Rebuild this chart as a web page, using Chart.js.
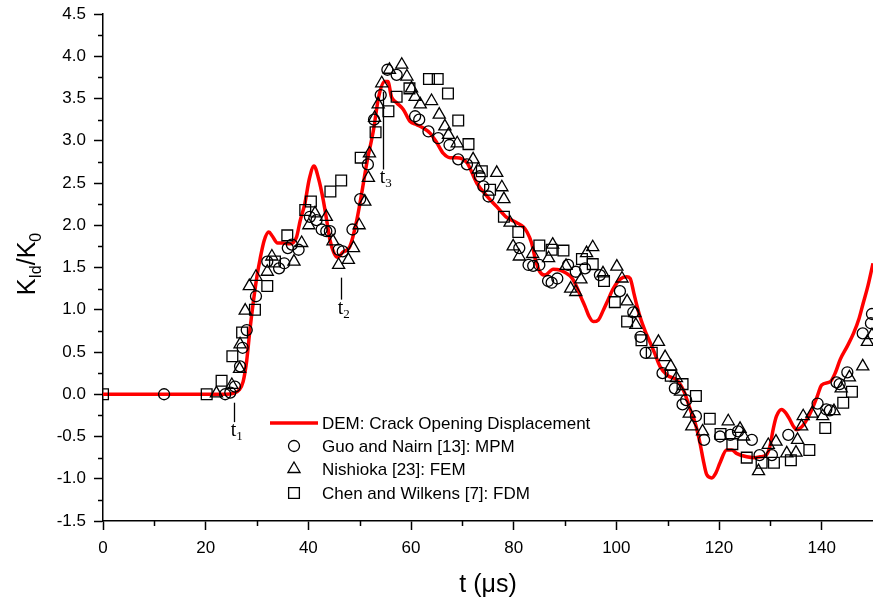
<!DOCTYPE html>
<html><head><meta charset="utf-8">
<script src="https://cdn.jsdelivr.net/npm/chart.js@4.4.1/dist/chart.umd.min.js"></script>
<style>html,body{margin:0;padding:0;background:#fff;}#wrap{width:873px;height:600px;}</style>
</head><body><div id="wrap"><canvas id="c" width="873" height="600"></canvas></div>
<script>
// ---------- data ----------
const xTicks = [0,20,40,60,80,100,120,140];
const yTicks = [-1.5,-1.0,-0.5,0.0,0.5,1.0,1.5,2.0,2.5,3.0,3.5,4.0,4.5];
const xMinor = [10,30,50,70,90,110,130];
const yMinor = [-1.25,-0.75,-0.25,0.25,0.75,1.25,1.75,2.25,2.75,3.25,3.75,4.25];

const seriesNames = ["DEM: Crack Opening Displacement","Guo and Nairn [13]: MPM","Nishioka [23]: FEM","Chen and Wilkens [7]: FDM"];

// DEM: crack opening displacement  [t (us), K_Id/K_0]
const demPoints = [[0,0],[24,0],[25.4,0.01],[26.5,0.05],[27.3,0.15],[28.0,0.4],[28.6,0.75],[29.3,1.1],[30.0,1.4],[30.6,1.6],[31.4,1.82],[32.3,1.92],[33.0,1.87],[34.0,1.79],[35.0,1.79],[36.4,1.78],[37.7,1.86],[38.4,2.05],[39.3,2.25],[40.2,2.55],[41.1,2.70],[42.0,2.55],[42.9,2.30],[43.6,2.05],[44.2,1.83],[45.0,1.67],[45.7,1.62],[46.7,1.68],[48.1,1.75],[49.4,2.05],[50.4,2.38],[51.4,2.74],[52.7,3.13],[53.7,3.52],[54.9,3.70],[55.5,3.70],[56.2,3.52],[57.2,3.45],[58.5,3.37],[59.8,3.23],[61.1,3.19],[62.4,3.15],[63.7,3.09],[65.0,2.98],[66.3,2.85],[67.6,2.80],[68.9,2.80],[70.9,2.74],[72.8,2.50],[74.7,2.35],[76.7,2.22],[78.5,2.10],[80.6,2.03],[81.9,1.98],[82.6,1.92],[83.5,1.79],[84.3,1.58],[85.1,1.45],[86.1,1.41],[87.7,1.48],[89.0,1.47],[90.3,1.43],[91.3,1.38],[92.2,1.28],[93.1,1.15],[93.9,1.04],[94.7,0.92],[95.5,0.86],[96.5,0.88],[97.5,1.0],[98.4,1.12],[99.4,1.25],[100.7,1.36],[102.0,1.39],[102.7,1.37],[103.4,1.2],[104.0,1.05],[104.6,0.92],[105.6,0.75],[106.6,0.61],[107.5,0.48],[108.5,0.33],[110.0,0.22],[111.8,0.17],[113.2,0.03],[114.4,-0.18],[115.4,-0.35],[116.3,-0.58],[117.0,-0.80],[117.6,-0.95],[118.6,-0.99],[119.4,-0.93],[120.2,-0.81],[121.5,-0.66],[122.5,-0.66],[123.4,-0.70],[125.4,-0.74],[127.0,-0.75],[128.0,-0.74],[129.2,-0.72],[129.9,-0.62],[130.6,-0.40],[131.2,-0.26],[132.2,-0.18],[133.0,-0.22],[133.8,-0.30],[134.5,-0.38],[135.1,-0.42],[136.2,-0.38],[137.1,-0.30],[138.1,-0.18],[139.1,-0.03],[140.0,0.11],[141.7,0.15],[142.7,0.26],[143.6,0.41],[145.0,0.57],[146.2,0.72],[147.3,0.90],[148.1,1.08],[149.0,1.28],[150,1.55]];

// Guo and Nairn [13]: MPM (circles)
const guoPoints = [[11.9,0],[23.8,0.0],[24.8,0.02],[25.7,0.09],[26.7,0.33],[27.2,0.55],[28.0,0.76],[29.8,1.16],[32.0,1.57],[34.3,1.49],[35.3,1.55],[36.0,1.73],[36.8,1.77],[38.1,1.71],[40.3,2.10],[41.6,2.06],[42.6,1.95],[43.5,1.93],[44.2,1.93],[45.9,1.71],[46.7,1.69],[48.6,1.95],[50.1,2.31],[51.6,2.72],[52.8,3.25],[54.1,3.54],[55.4,3.84],[57.2,3.78],[60.8,3.29],[61.6,3.25],[63.4,3.11],[65.3,3.03],[67.5,2.95],[69.2,2.78],[70.9,2.72],[73.4,2.58],[74.1,2.46],[75.1,2.34],[81.1,1.73],[82.9,1.53],[83.8,1.52],[85.0,1.53],[86.7,1.34],[87.4,1.32],[88.5,1.37],[90.6,1.53],[92.1,1.45],[93.9,1.49],[96.8,1.41],[100.7,1.22],[103.3,0.97],[104.7,0.68],[105.7,0.49],[109.0,0.25],[111.4,0.07],[112.9,-0.12],[113.6,-0.07],[115.5,-0.26],[117.1,-0.54],[120.2,-0.50],[122.2,-0.48],[123.7,-0.44],[126.4,-0.54],[127.9,-0.72],[130.3,-0.72],[133.5,-0.48],[139.2,-0.11],[140.9,-0.18],[141.6,-0.19],[142.9,0.14],[143.5,0.12],[145.0,0.26],[148.0,0.72],[149.6,0.84],[149.8,0.95]];

// Nishioka [23]: FEM (triangles)
const nishiokaPoints = [[22.1,0.01],[25.1,0.11],[26.6,0.30],[26.7,0.59],[27.7,0.99],[28.5,1.28],[29.8,1.39],[32.0,1.45],[32.9,1.63],[37.2,1.57],[38.7,1.79],[40.1,2.0],[41.3,2.14],[43.5,2.10],[44.8,1.81],[45.9,1.53],[47.8,1.59],[48.8,1.73],[49.9,2.0],[51.0,2.28],[51.7,2.56],[51.9,2.85],[52.9,3.27],[53.6,3.43],[54.3,3.68],[55.8,3.84],[58.2,3.90],[59.2,3.76],[60.1,3.62],[60.8,3.52],[61.8,3.43],[64.0,3.47],[65.5,3.31],[66.6,3.17],[67.3,3.07],[69.0,2.97],[72.1,2.78],[73.1,2.66],[76.7,2.62],[77.7,2.45],[78.1,2.31],[79.3,2.03],[79.9,1.75],[81.1,1.63],[83.7,1.66],[86.8,1.61],[87.6,1.77],[90.2,1.52],[91.1,1.25],[92.1,1.21],[93.1,1.36],[94.2,1.67],[95.4,1.74],[97.4,1.43],[100.1,1.51],[101.1,1.37],[102.1,1.10],[103.6,0.96],[103.8,0.82],[108.2,0.62],[109.5,0.44],[110.6,0.33],[111.7,0.19],[112.5,0.03],[114.2,-0.23],[114.7,-0.38],[116.8,-0.44],[121.8,-0.32],[124.1,-0.41],[124.8,-0.50],[127.7,-0.91],[129.6,-0.60],[131.1,-0.56],[133.2,-0.70],[135.0,-0.69],[135.3,-0.54],[136.1,-0.38],[136.4,-0.26],[138.1,-0.23],[140.2,-0.26],[142.4,-0.20],[143.8,0.07],[145.4,0.20],[148.0,0.33],[148.9,0.62],[149.8,0.70]];

// Chen and Wilkens [7]: FDM (squares)
const chenPoints = [[0,0],[20.2,0],[23.1,0.16],[25.2,0.45],[27.1,0.73],[29.6,1.0],[32.0,1.28],[33.5,1.57],[35.9,1.88],[39.4,2.18],[40.5,2.28],[44.3,2.40],[46.4,2.53],[50.2,2.80],[53.1,3.10],[55.6,3.35],[57.2,3.52],[59.7,3.62],[63.5,3.73],[65.2,3.73],[67.2,3.56],[69.2,3.24],[71.2,2.96],[73.8,2.64],[75.4,2.42],[78.1,2.10],[80.9,1.92],[85.0,1.76],[87.4,1.71],[89.7,1.70],[93.3,1.60],[95.4,1.54],[97.6,1.34],[99.7,1.09],[102.1,0.86],[104.9,0.64],[106.9,0.49],[110.6,0.22],[112.9,0.12],[115.5,-0.02],[118.2,-0.29],[120.3,-0.47],[122.6,-0.59],[125.4,-0.75],[128.3,-0.81],[130.7,-0.81],[134.0,-0.78],[137.6,-0.66],[140.7,-0.40],[144.2,-0.10],[145.9,0.03]];

// markers t1, t2, t3: [label subscript, t, y top, y bottom]
const markers = [["1",25.5,-0.10,-0.33],["2",46.3,1.38,1.12],["3",54.5,3.58,2.66]];

// ---------- chart ----------
const SANS = "'Liberation Sans', Arial, sans-serif";
const SERIF = "'Liberation Serif', 'Times New Roman', serif";
const toXY = a => a.map(p => ({x:p[0], y:p[1]}));

const markerStyle = (style, r) => ({
  showLine:false, pointStyle:style, pointRadius:r, pointHoverRadius:r,
  borderColor:'#000', pointBorderColor:'#000', pointBackgroundColor:'rgba(0,0,0,0)',
  backgroundColor:'rgba(0,0,0,0)', pointBorderWidth:1.3, borderWidth:1.3
});

const datasets = [
  {label:seriesNames[0], data:toXY(demPoints), showLine:true, borderColor:'#ff0000', borderWidth:3.5,
   pointRadius:0, cubicInterpolationMode:'monotone', fill:false, order:4},
  Object.assign({label:seriesNames[1], data:toXY(guoPoints), order:1}, markerStyle('circle',5.5)),
  Object.assign({label:seriesNames[2], data:toXY(nishiokaPoints), order:2}, markerStyle('triangle',7)),
  Object.assign({label:seriesNames[3], data:toXY(chenPoints), order:3}, markerStyle('rect',7.6)),
];

const extras = {
  id:'extras',
  afterDraw(chart){
    const {ctx, chartArea:a, scales:{x,y}} = chart;
    ctx.save();
    // minor ticks
    ctx.strokeStyle='#000'; ctx.lineWidth=1.5;
    xMinor.forEach(v=>{const px=Math.round(x.getPixelForValue(v))+0.5;ctx.beginPath();ctx.moveTo(px,a.bottom);ctx.lineTo(px,a.bottom+5);ctx.stroke();});
    yMinor.forEach(v=>{const py=Math.round(y.getPixelForValue(v))+0.5;ctx.beginPath();ctx.moveTo(a.left,py);ctx.lineTo(a.left-5,py);ctx.stroke();});
    // t markers
    ctx.lineWidth=1.3; ctx.fillStyle='#000';
    markers.forEach(m=>{
      const px=Math.round(x.getPixelForValue(m[1]))+0.5;
      const y1=y.getPixelForValue(m[2]), y2=y.getPixelForValue(m[3]);
      ctx.beginPath();ctx.moveTo(px,y1);ctx.lineTo(px,y2);ctx.stroke();
      ctx.font='20px '+SERIF; ctx.textBaseline='alphabetic'; ctx.textAlign='left';
      const tw=ctx.measureText('t').width;
      const bx=px-tw/2-1, by=y2+14;
      ctx.fillText('t',bx,by);
      ctx.font='13px '+SERIF; ctx.fillText(m[0],bx+tw,by+4);
    });
    // axis titles
    ctx.font='25px '+SANS; ctx.textAlign='center'; ctx.textBaseline='alphabetic';
    ctx.fillText('t (\u03bcs)',(a.left+a.right)/2,592);
    // y title with subscripts
    const parts=[['K',25,0],['Id',16,6],['/K',25,0],['0',16,6]];
    let total=0; parts.forEach(p=>{ctx.font=p[1]+'px '+SANS; total+=ctx.measureText(p[0]).width;});
    ctx.translate(35,264); ctx.rotate(-Math.PI/2); ctx.textAlign='left';
    let u=-total/2;
    parts.forEach(p=>{ctx.font=p[1]+'px '+SANS; ctx.fillText(p[0],u,p[2]); u+=ctx.measureText(p[0]).width;});
    ctx.restore();
    // legend
    ctx.save();
    const lx=270, tx=322, rows=[423,446,469,493];
    ctx.strokeStyle='#ff0000'; ctx.lineWidth=3.5;
    ctx.beginPath(); ctx.moveTo(lx,rows[0]); ctx.lineTo(lx+48,rows[0]); ctx.stroke();
    const ds=chart.data.datasets;
    for(let i=1;i<4;i++){
      ctx.strokeStyle='#000'; ctx.fillStyle='rgba(0,0,0,0)'; ctx.lineWidth=1.3;
      Chart.helpers.drawPoint(ctx,{pointStyle:ds[i].pointStyle,radius:ds[i].pointRadius,rotation:0,borderWidth:1.3},294,rows[i]);
    }
    ctx.fillStyle='#000'; ctx.font='17px '+SANS; ctx.textAlign='left'; ctx.textBaseline='middle';
    for(let i=0;i<4;i++) ctx.fillText(ds[i].label,tx,rows[i]+1);
    ctx.restore();
  }
};

new Chart(document.getElementById('c'),{
  type:'scatter',
  data:{datasets},
  options:{
    responsive:false, animation:false, events:[],
    layout:{autoPadding:false, padding:{top:14,right:0,left:0,bottom:0}},
    plugins:{legend:{display:false}, tooltip:{enabled:false}},
    scales:{
      x:{type:'linear', min:0, max:150,
        afterBuildTicks:s=>{s.ticks=xTicks.map(v=>({value:v}));},
        afterFit:s=>{s.height=79; s.paddingRight=0; s.paddingLeft=0;},
        ticks:{autoSkip:false, maxRotation:0, color:'#000', font:{family:SANS,size:17}, padding:8, callback:v=>String(v)},
        grid:{drawOnChartArea:false, drawTicks:true, tickLength:9, tickColor:'#000', tickWidth:1.5},
        border:{display:true, color:'#000', width:1.5}},
      y:{type:'linear', min:-1.5, max:4.5,
        afterBuildTicks:s=>{s.ticks=yTicks.map(v=>({value:v}));},
        afterFit:s=>{s.width=103; s.paddingTop=0; s.paddingBottom=0;},
        ticks:{autoSkip:false, color:'#000', font:{family:SANS,size:17}, padding:8, callback:v=>Number(v).toFixed(1)},
        grid:{drawOnChartArea:false, drawTicks:true, tickLength:9, tickColor:'#000', tickWidth:1.5},
        border:{display:true, color:'#000', width:1.5}}
    }
  },
  plugins:[extras]
});
</script></body></html>
